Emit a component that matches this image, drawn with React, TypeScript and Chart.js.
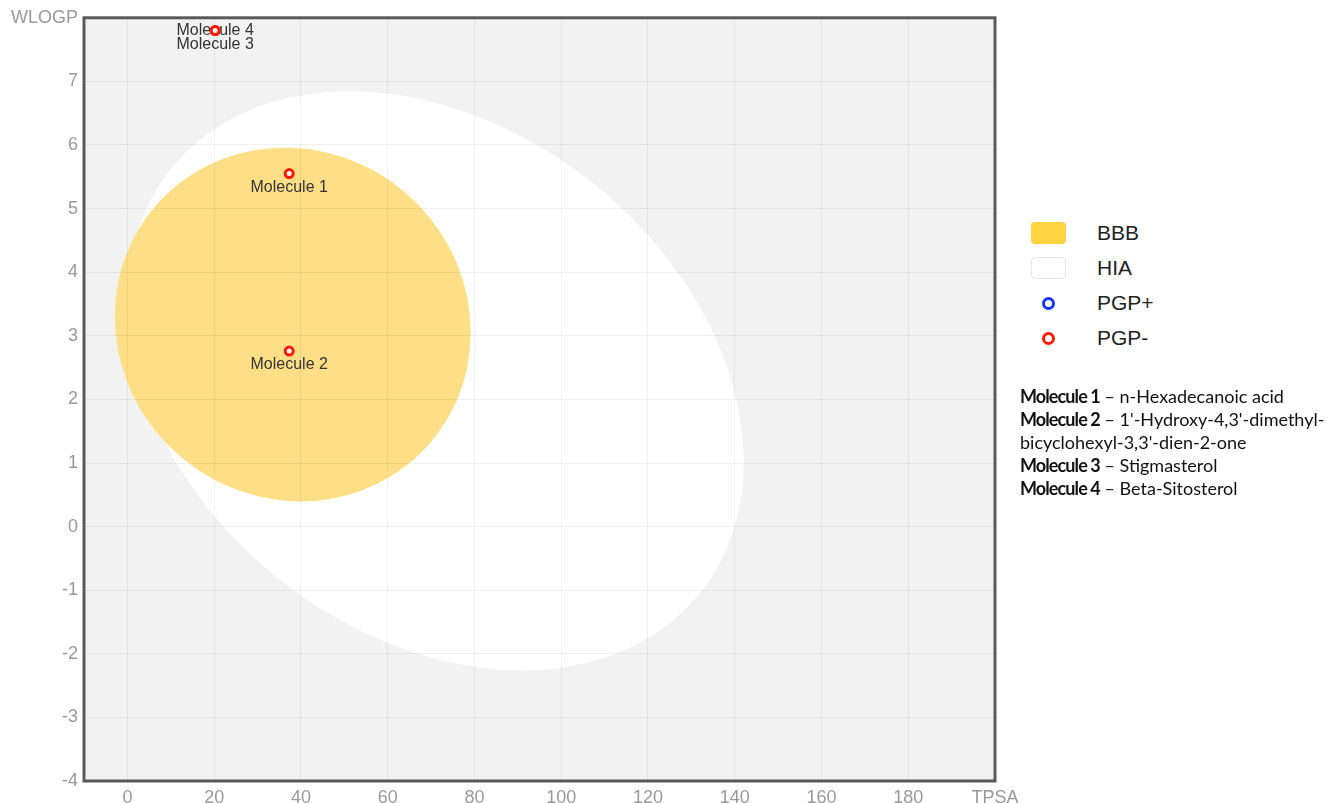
import React, { useEffect, useRef } from "react";
import { Chart, registerables } from "chart.js";

Chart.register(...registerables);

// ---- data ----
const xTicks = [0, 20, 40, 60, 80, 100, 120, 140, 160, 180, 200];
const yTicks = [-4, -3, -2, -1, 0, 1, 2, 3, 4, 5, 6, 7, 8];
const moleculeLabels = ["Molecule 1", "Molecule 2", "Molecule 3", "Molecule 4"];
const tpsaValues = [37.3, 37.3, 20.23, 20.23];
const wlogpValues = [5.55, 2.76, 7.8, 7.8];
const pgpClass = ["PGP-", "PGP-", "PGP-", "PGP-"];
const compoundNames = [
  "n-Hexadecanoic acid",
  "1'-Hydroxy-4,3'-dimethyl-bicyclohexyl-3,3'-dien-2-one",
  "Stigmasterol",
  "Beta-Sitosterol",
];
// ellipse: [centre TPSA, centre WLOGP, width, height, angle (deg)]
const hiaEllipse = [71.051, 2.292, 142.081, 8.74, -1.031325];
const bbbEllipse = [38.117, 3.177, 82.061, 5.557, -0.171887];
const legendLabels = ["BBB", "HIA", "PGP+", "PGP-"];

const COLORS = {
  bg: "#f2f2f2",
  hia: "#ffffff",
  bbb: "#fedf87",
  bbbSwatch: "#fdd43f",
  pgpPlus: "#1033ff",
  pgpMinus: "#ff1a00",
  border: "#5a5a5a",
  tick: "#999999",
  label: "#333333",
};

const FONT = "'Liberation Sans', Arial, Helvetica, sans-serif";

function drawEllipse(chart: any, e: number[], color: string) {
  const { ctx, scales } = chart;
  const xs = scales.x;
  const ys = scales.y;
  const cx = xs.getPixelForValue(e[0]);
  const cy = ys.getPixelForValue(e[1]);
  const sx = xs.getPixelForValue(1) - xs.getPixelForValue(0);
  const sy = ys.getPixelForValue(0) - ys.getPixelForValue(1);
  ctx.save();
  ctx.translate(cx, cy);
  ctx.scale(sx, -sy);
  ctx.rotate((e[4] * Math.PI) / 180);
  ctx.beginPath();
  ctx.ellipse(0, 0, e[2] / 2, e[3] / 2, 0, 0, Math.PI * 2);
  ctx.restore();
  ctx.fillStyle = color;
  ctx.fill();
}

const eggPlugin = {
  id: "egg",
  beforeDraw(chart: any) {
    const { ctx, chartArea } = chart;
    ctx.save();
    ctx.beginPath();
    ctx.rect(chartArea.left, chartArea.top, chartArea.right - chartArea.left, chartArea.bottom - chartArea.top);
    ctx.clip();
    ctx.fillStyle = COLORS.bg;
    ctx.fillRect(chartArea.left, chartArea.top, chartArea.right - chartArea.left, chartArea.bottom - chartArea.top);
    drawEllipse(chart, hiaEllipse, COLORS.hia);
    drawEllipse(chart, bbbEllipse, COLORS.bbb);
    ctx.restore();
  },
  beforeDatasetsDraw(chart: any) {
    const { ctx, scales } = chart;
    ctx.save();
    ctx.font = `16px ${FONT}`;
    ctx.fillStyle = COLORS.label;
    ctx.textAlign = "center";
    ctx.textBaseline = "middle";
    moleculeLabels.forEach((lbl, i) => {
      let earlier = 0;
      for (let j = 0; j < i; j++) {
        if (tpsaValues[j] === tpsaValues[i] && wlogpValues[j] === wlogpValues[i]) earlier++;
      }
      const row = 1 - earlier;
      const px = scales.x.getPixelForValue(tpsaValues[i]);
      const py = scales.y.getPixelForValue(wlogpValues[i]);
      ctx.fillText(lbl, px, py + 14 * row);
    });
    ctx.restore();
  },
  afterDraw(chart: any) {
    const { ctx, chartArea } = chart;
    ctx.save();
    ctx.strokeStyle = COLORS.border;
    ctx.lineWidth = 3;
    ctx.strokeRect(chartArea.left, chartArea.top, chartArea.right - chartArea.left, chartArea.bottom - chartArea.top);
    ctx.restore();
  },
};

export default function App() {
  const ref = useRef<HTMLCanvasElement | null>(null);

  useEffect(() => {
    if (!ref.current) return;
    const points = tpsaValues.map((x, i) => ({ x, y: wlogpValues[i] }));
    const chart = new Chart(ref.current, {
      type: "scatter",
      data: {
        datasets: [
          {
            label: "Molecules",
            data: points,
            pointRadius: 4,
            pointHoverRadius: 4,
            pointBorderWidth: 3,
            pointBackgroundColor: "#ffffff",
            pointBorderColor: pgpClass.map((c) => (c === "PGP+" ? COLORS.pgpPlus : COLORS.pgpMinus)),
          },
        ],
      },
      options: {
        responsive: false,
        animation: false,
        layout: { padding: { top: 0, right: 33, left: 0, bottom: 0 } },
        plugins: { legend: { display: false }, tooltip: { enabled: false } },
        scales: {
          x: {
            type: "linear",
            min: -10,
            max: 200,
            afterBuildTicks: (scale: any) => {
              scale.ticks = xTicks.map((v) => ({ value: v }));
            },
            afterFit: (scale: any) => {
              scale.height = 22;
            },
            grid: { color: "rgba(0,0,0,0.055)", lineWidth: 1, drawTicks: false },
            border: { display: false },
            ticks: {
              padding: 6,
              color: COLORS.tick,
              font: { family: FONT, size: 18 },
              maxRotation: 0,
              autoSkip: false,
              callback: (v: any) => (v === 200 ? "TPSA" : String(v)),
            },
          },
          y: {
            type: "linear",
            min: -4,
            max: 8,
            afterBuildTicks: (scale: any) => {
              scale.ticks = yTicks.map((v) => ({ value: v }));
            },
            afterFit: (scale: any) => {
              scale.width = 76;
            },
            grid: { color: "rgba(0,0,0,0.055)", lineWidth: 1, drawTicks: false },
            border: { display: false },
            ticks: {
              padding: 6,
              color: COLORS.tick,
              font: { family: FONT, size: 18 },
              autoSkip: false,
              callback: (v: any) => (v === 8 ? "WLOGP" : String(v)),
            },
          },
        },
      },
      plugins: [eggPlugin],
    });
    return () => chart.destroy();
  }, []);

  const legendItem = (label: string, i: number) => {
    let marker: React.ReactNode;
    if (label === "BBB") {
      marker = <div style={{ width: 35, height: 22, borderRadius: 4, background: COLORS.bbbSwatch }} />;
    } else if (label === "HIA") {
      marker = (
        <div style={{ width: 33, height: 20, borderRadius: 4, background: "#fff", border: "1px solid #e6e6e6" }} />
      );
    } else {
      marker = (
        <div
          style={{
            width: 7,
            height: 7,
            borderRadius: "50%",
            background: "#fff",
            border: `3px solid ${label === "PGP+" ? COLORS.pgpPlus : COLORS.pgpMinus}`,
          }}
        />
      );
    }
    return (
      <div key={label} style={{ position: "absolute", left: 0, top: i * 35, height: 22, width: 200, display: "flex", alignItems: "center" }}>
        <div style={{ width: 35, display: "flex", justifyContent: "center" }}>{marker}</div>
        <div style={{ marginLeft: 31, fontFamily: FONT, fontSize: 21, color: "#222" }}>{label}</div>
      </div>
    );
  };

  return (
    <div style={{ position: "absolute", left: 0, top: 0, width: 1328, height: 803, overflow: "hidden", background: "#fff" }}>
      <canvas ref={ref} width={1020} height={802} style={{ position: "absolute", left: 8, top: 1, width: 1020, height: 802 }} />
      <div style={{ position: "absolute", left: 1031, top: 222 }}>{legendLabels.map(legendItem)}</div>
      <div
        style={{
          position: "absolute",
          left: 1020,
          top: 385,
          width: 312,
          fontFamily: "Lato, 'Open Sans', sans-serif",
          fontSize: 18,
          lineHeight: "23px",
          color: "#111",
        }}
      >
        {moleculeLabels.map((m, i) => (
          <div key={m}>
            <b style={{ letterSpacing: "-0.9px" }}>{m}</b> – {compoundNames[i]}
          </div>
        ))}
      </div>
    </div>
  );
}
